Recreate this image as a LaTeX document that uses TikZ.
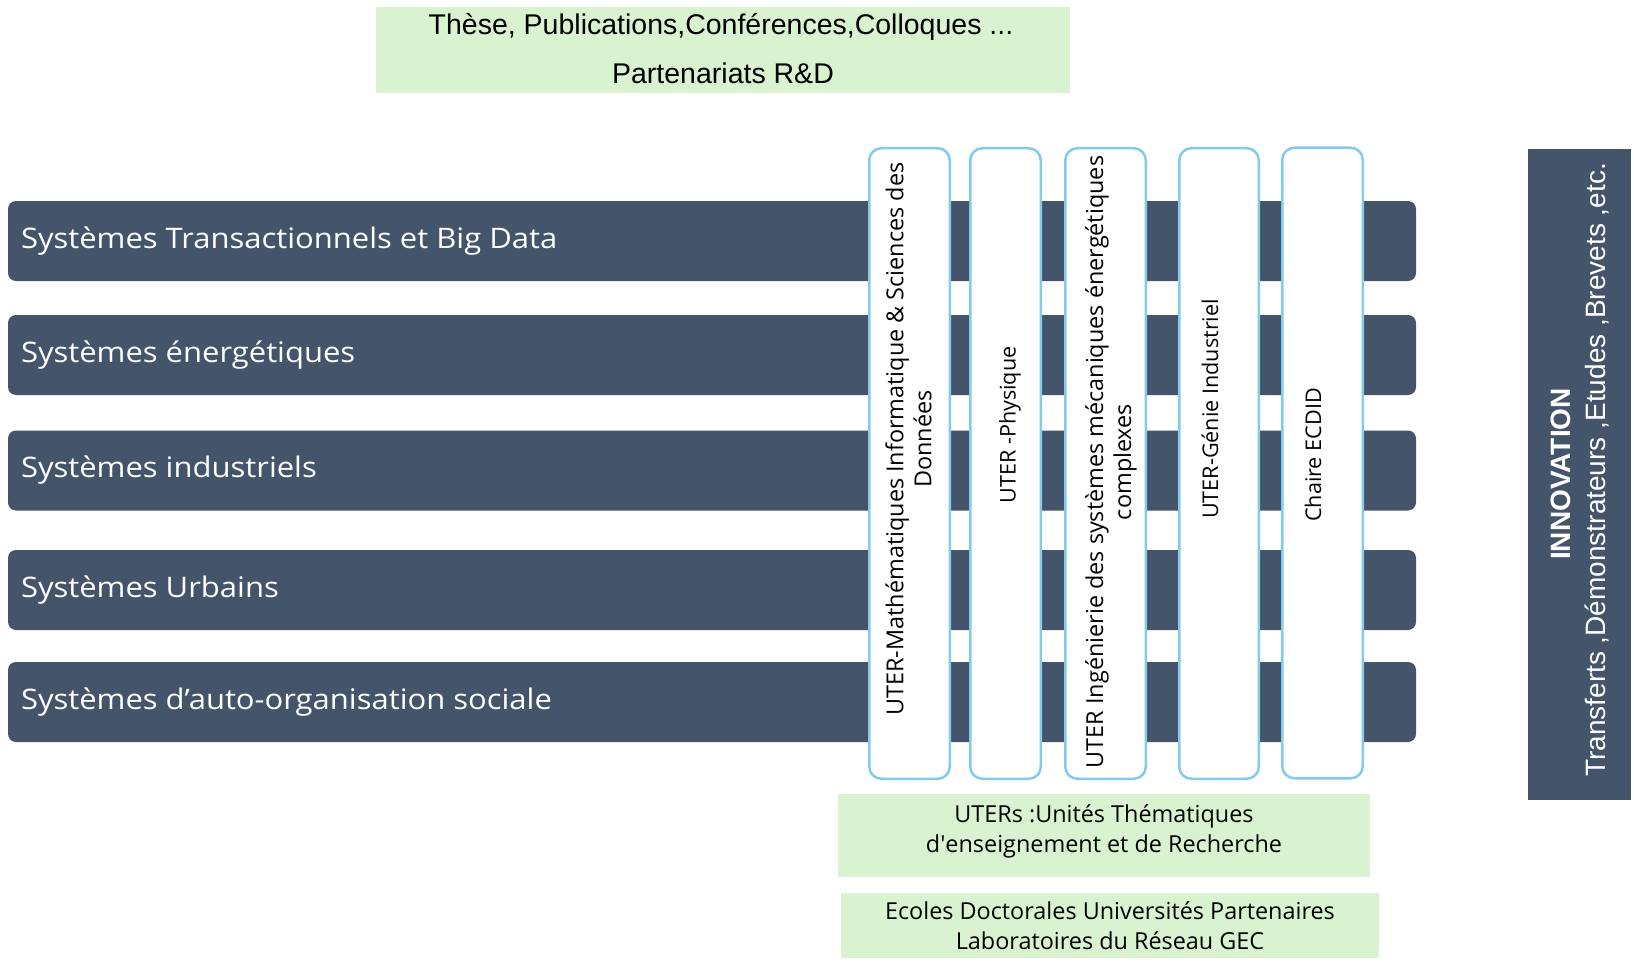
\documentclass[tikz,border=0pt]{standalone}
\usepackage{fontspec}
\setmainfont{Open Sans}[Ligatures={NoCommon}]
\newfontfamily\barfont{Open Sans}[Ligatures={NoCommon},FakeStretch=1.095]
\newfontfamily\arialfont{Liberation Sans}
\definecolor{barblue}{HTML}{44546A}
\definecolor{lightgreen}{HTML}{D9F2D0}
\definecolor{colblue}{HTML}{83CBEB}
\begin{document}
\begin{tikzpicture}[x=1pt,y=-1pt,
 bar/.style={fill=barblue, rounded corners=8pt, minimum width=1408pt, minimum height=80pt, inner sep=0pt, draw=none},
 bartext/.style={text=white, font=\barfont\fontsize{28.3}{32}\selectfont, anchor=west, inner sep=0pt},
 col/.style={draw=colblue, line width=2.5pt, fill=white, rounded corners=12pt, inner sep=0pt, minimum height=630.5pt},
 coltext/.style={rotate=90, font=\fontsize{23.4}{28}\selectfont, align=center, inner sep=0pt},
 coltextsmall/.style={coltext, font=\fontsize{21.6}{26}\selectfont},
 greenbox/.style={fill=lightgreen, inner sep=0pt},
 greentext/.style={font=\fontsize{23.4}{30}\selectfont, align=center, inner sep=0pt},
 toptext/.style={font=\arialfont\fontsize{28.5}{32}\selectfont, inner sep=0pt},
 innobox/.style={fill=barblue, inner sep=0pt, minimum width=103pt, minimum height=651pt},
 innotext/.style={rotate=90, text=white, font=\arialfont\fontsize{28}{32}\selectfont, inner sep=0pt}
]
\useasboundingbox (0,0) rectangle (1634,971);

% top green box
\node[greenbox, minimum width=694pt, minimum height=86pt] (top) at (723,50) {};
\node[toptext] (topa) at (721,27) {Thèse, Publications,Conférences,Colloques ...};
\node[toptext] (topb) at (723,73) {Partenariats R\&D};

% horizontal bars
\node[bar] (b1) at (712,241) {};
\node[bar] (b2) at (712,355) {};
\node[bar] (b3) at (712,470.5) {};
\node[bar] (b4) at (712,590) {};
\node[bar] (b5) at (712,702) {};
\node[bartext] (t1) at ([xshift=13pt]b1.west) {Systèmes Transactionnels et Big Data};
\node[bartext] (t2) at ([xshift=13pt]b2.west) {Systèmes énergétiques};
\node[bartext] (t3) at ([xshift=13pt]b3.west) {Systèmes industriels};
\node[bartext] (t4) at ([xshift=13pt]b4.west) {Systèmes Urbains};
\node[bartext] (t5) at ([xshift=13pt]b5.west) {Systèmes d’auto-organisation sociale};

% vertical columns
\node[col, minimum width=80.5pt] (c1) at (909.5,463.5) {};
\node[col, minimum width=70.5pt] (c2) at (1005.5,463.5) {};
\node[col, minimum width=80.5pt] (c3) at (1105.5,463.5) {};
\node[col, minimum width=79.5pt] (c4) at (1219,463.5) {};
\node[col, minimum width=80.5pt] (c5) at (1322.5,463) {};
\node[coltext] (ct1) at (908.5,439) {UTER-Mathématiques Informatique \& Sciences des\\Données};
\node[coltextsmall] (ct2) at (1010,425) {UTER -Physique};
\node[coltext] (ct3) at (1111,462) {UTER Ingénierie des systèmes mécaniques énergétiques\\complexes};
\node[coltextsmall] (ct4) at (1210,409) {UTER-Génie Industriel};
\node[coltextsmall] (ct5) at (1313,455) {Chaire ECDID};

% innovation box
\node[innobox] (inno) at (1579.5,474.5) {};
\node[innotext, font=\arialfont\bfseries\fontsize{28}{32}\selectfont] (inn1) at (1561,474) {INNOVATION};
\node[innotext] (inn2) at (1597,470) {Transferts ,Démonstrateurs ,Etudes ,Brevets ,etc.};

% bottom green boxes
\node[greenbox, minimum width=532pt, minimum height=83pt] (g1) at (1104,835.5) {};
\node[greentext] (g1t) at (1104,831) {UTERs :Unités Thématiques\\d\textquotesingle enseignement et de Recherche};
\node[greenbox, minimum width=538pt, minimum height=65pt] (g2) at (1110,925.5) {};
\node[greentext] (g2t) at (1110,926) {Ecoles Doctorales Universités Partenaires\\Laboratoires du Réseau GEC};
\end{tikzpicture}
\end{document}
